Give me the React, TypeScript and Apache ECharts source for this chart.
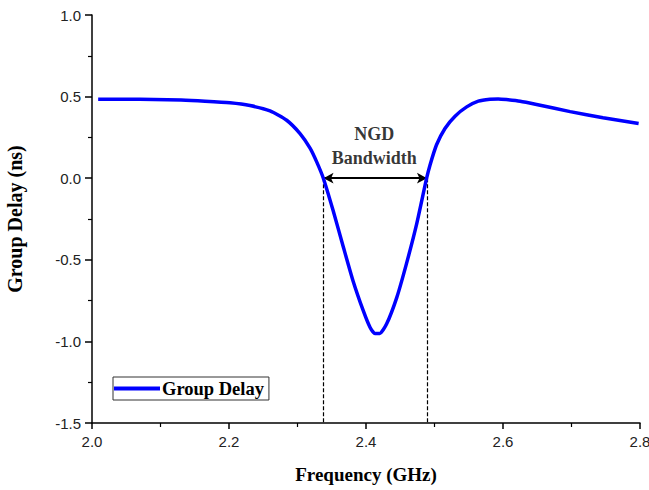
import React, { useEffect, useRef } from "react";
import * as echarts from "echarts";

const freq = [2.009, 2.05, 2.09, 2.13, 2.165, 2.2015, 2.2307, 2.2599, 2.2842, 2.3037, 2.3183, 2.328, 2.3377, 2.352, 2.367, 2.381, 2.396, 2.406, 2.413, 2.42, 2.43, 2.445, 2.459, 2.474, 2.4885, 2.4934, 2.503, 2.5153, 2.53, 2.547, 2.564, 2.581, 2.593, 2.605, 2.625, 2.649, 2.698, 2.746, 2.798];
const delay = [0.484, 0.484, 0.482, 0.479, 0.472, 0.462, 0.445, 0.412, 0.355, 0.273, 0.184, 0.1, 0.0, -0.198, -0.423, -0.628, -0.812, -0.915, -0.951, -0.951, -0.894, -0.73, -0.525, -0.28, 0.0, 0.08, 0.205, 0.305, 0.38, 0.437, 0.472, 0.484, 0.486, 0.482, 0.472, 0.452, 0.408, 0.37, 0.335];
const bandEdges = [2.338, 2.489];
const annotation = { x: 2.412, y: 0.2, text: "NGD\nBandwidth" };
const seriesName = "Group Delay";

export default function App() {
  const ref = useRef<HTMLDivElement>(null);
  useEffect(() => {
    const chart = echarts.init(ref.current!, undefined, { renderer: "svg" });
    const serif = "'Liberation Serif', 'Times New Roman', serif";
    const sans = "'Liberation Sans', Arial, sans-serif";
    chart.setOption({
      animation: false,
      backgroundColor: "#fff",
      grid: { left: 92, right: 9, top: 15, bottom: 67, containLabel: false, outerBoundsMode: "none" },
      legend: {
        data: [{ name: seriesName, icon: "rect" }],
        left: 113,
        top: 377,
        orient: "vertical",
        itemWidth: 46,
        itemHeight: 4,
        itemGap: 0,
        padding: [2, 5, 2, 1],
        borderColor: "#333",
        borderWidth: 1,
        textStyle: { fontFamily: serif, fontWeight: "bold", fontSize: 18.5, color: "#000", padding: [0, 0, 0, -3] },
      },
      xAxis: {
        type: "value",
        min: 2.0,
        max: 2.8,
        interval: 0.2,
        name: "Frequency (GHz)",
        nameLocation: "middle",
        nameGap: 42,
        nameTextStyle: { fontFamily: serif, fontWeight: "bold", fontSize: 19, color: "#000" },
        axisLine: { show: true, onZero: false, lineStyle: { color: "#000", width: 1.5 } },
        axisTick: { show: true, length: 6, lineStyle: { color: "#000", width: 1.5 } },
        minorTick: { show: true, splitNumber: 2, length: 4, lineStyle: { color: "#000", width: 1.2 } },
        axisLabel: { fontFamily: sans, fontSize: 15, color: "#222", margin: 11, formatter: (v: number) => v.toFixed(1) },
        splitLine: { show: false },
      },
      yAxis: {
        type: "value",
        min: -1.5,
        max: 1.0,
        interval: 0.5,
        name: "Group Delay (ns)",
        nameLocation: "middle",
        nameGap: 67,
        nameTextStyle: { fontFamily: serif, fontWeight: "bold", fontSize: 20, color: "#000" },
        axisLine: { show: true, onZero: false, lineStyle: { color: "#000", width: 1.5 } },
        axisTick: { show: true, length: 7, lineStyle: { color: "#000", width: 1.5 } },
        minorTick: { show: true, splitNumber: 2, length: 4, lineStyle: { color: "#000", width: 1.2 } },
        axisLabel: { fontFamily: sans, fontSize: 15, color: "#222", margin: 11, formatter: (v: number) => v.toFixed(1) },
        splitLine: { show: false },
      },
      series: [
        {
          name: seriesName,
          type: "line",
          data: freq.map((f, i) => [f, delay[i]]),
          smooth: 0.2,
          showSymbol: false,
          symbol: "none",
          lineStyle: { color: "#0000ff", width: 3.5 },
          itemStyle: { color: "#0000ff" },
          z: 5,
        },
        {
          name: "edges",
          type: "line",
          data: [],
          symbol: "none",
          markLine: {
            silent: true,
            symbol: ["none", "none"],
            label: { show: false },
            lineStyle: { color: "#000", type: [4, 2], width: 1.2 },
            data: bandEdges.map((e) => [{ coord: [e, 0] }, { coord: [e, -1.5] }]),
          },
        },
        {
          name: "arrow",
          type: "line",
          data: [],
          symbol: "none",
          markLine: {
            silent: true,
            symbol: ["arrow", "arrow"],
            symbolSize: [8, 10],
            label: { show: false },
            lineStyle: { color: "#000", type: "solid", width: 2 },
            data: [[{ coord: [bandEdges[0], 0] }, { coord: [bandEdges[1], 0] }]],
          },
        },
        {
          name: "label",
          type: "scatter",
          symbolSize: 0,
          data: [[annotation.x, annotation.y]],
          label: {
            show: true,
            position: "inside",
            formatter: annotation.text,
            fontFamily: serif,
            fontWeight: "bold",
            fontSize: 18,
            lineHeight: 24,
            color: "#000",
          },
        },
      ],
    });
    return () => chart.dispose();
  }, []);
  return <div ref={ref} style={{ position: "fixed", left: 0, top: 0, width: 649, height: 490 }} />;
}
